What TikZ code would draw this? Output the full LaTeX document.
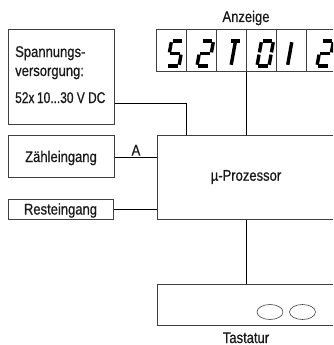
\documentclass[tikz,border=0pt]{standalone}
\usepackage{fontspec}
\setmainfont[FakeStretch=0.84,FakeBold=0.7]{Liberation Sans}
\usetikzlibrary{shapes.geometric}
\newcommand\dsega{(2.2,-25)--(11.8,-25)}
\newcommand\dsegb{(13,-23.8)--(13,-13.6)}
\newcommand\dsegc{(13,-11.4)--(13,-1.2)}
\newcommand\dsegd{(2.2,0)--(11.8,0)}
\newcommand\dsege{(1,-11.4)--(1,-1.2)}
\newcommand\dsegf{(1,-23.8)--(1,-13.6)}
\newcommand\dsegg{(2.2,-12.5)--(11.8,-12.5)}
\newcommand\dsegt{(7,-23.8)--(7,-1.2)}
\newcommand\dsegone{(7.5,-23.8)--(7.5,-1.2)}
\newcommand\sevdigit[2]{%
  \begin{scope}[shift={(#1,66)},xslant=0.18]
    \foreach \s in {#2}{\draw[seg] \csname dseg\s\endcsname;}
  \end{scope}}
\begin{document}
\begin{tikzpicture}[x=1pt,y=-1pt,
  box/.style={draw=black!75,line width=0.9pt,inner sep=0pt,rectangle,anchor=north west},
  conn/.style={draw=black,line width=0.8pt},
  lbl/.style={font=\fontsize{15.5}{18}\selectfont,inner sep=0pt,text=black!90},
  seg/.style={line width=3.4pt,line cap=butt,draw=black},
  key/.style={draw=black!75,line width=0.6pt,ellipse,minimum width=26pt,minimum height=15pt,inner sep=0pt}]
\useasboundingbox (0,0) rectangle (333,345);
\clip (0,0) rectangle (333,345);
% boxes
\node[box,minimum width=106pt,minimum height=95pt] (sup) at (8,29) {};
\node[lbl,anchor=base west] (sup1) at (15,57) {Spannungs-};
\node[lbl,anchor=base west] (sup2) at (15,76) {versorgung:};
\node[lbl,anchor=base west] (sup3) at (15,103) {\addfontfeature{FakeStretch=0.77}52x\,10...30 V DC};
\node[box,minimum width=106pt,minimum height=42pt] (zin) at (8,135) {};
\node[lbl,anchor=base] (zint) at (61,162) {Zähleingang};
\node[box,minimum width=105pt,minimum height=20pt] (rin) at (8,199) {};
\node[lbl,anchor=base] (rint) at (60.5,214.5) {Resteingang};
\node[box,minimum width=178pt,minimum height=84pt] (proc) at (157,135) {};
\node[lbl] (proct) at (246,177) {µ-Prozessor};
\node[box,minimum width=178pt,minimum height=41pt] (kbd) at (157,284) {};
\node[lbl,anchor=base] (kbdt) at (246,343) {Tastatur};
\node[key] (k1) at (270,312) {};
\node[key] (k2) at (302.5,312) {};
% display
\node[box,minimum width=180pt,minimum height=42pt] (disp) at (156,29) {};
\node[lbl,anchor=base] (dispt) at (246,22) {Anzeige};
\foreach \i in {1,...,5}{\draw[line width=0.9pt,black!75] ([xshift=30*\i]disp.north west) -- ([xshift=30*\i]disp.south west);}
\sevdigit{166}{a,f,g,c,d}
\sevdigit{196}{a,b,g,e,d}
\sevdigit{224}{a,t}
\sevdigit{256}{a,b,c,d,e,f}
\sevdigit{280}{one}
\sevdigit{316}{a,b,g,e,d}
% connectors
\draw[conn] (sup.east |- sup3.base) -| ([xshift=29pt]proc.north west);
\draw[conn] (disp.south) -- (proc.north -| disp.south);
\draw[conn] (zin.east |- 0,157) -- (proc.west |- 0,157) node[pos=0.5,above=1pt,lbl] (alab) {A};
\draw[conn] (rin.east) -- (proc.west |- rin.east);
\draw[conn] (proc.south) -- (kbd.north);
\end{tikzpicture}
\end{document}
